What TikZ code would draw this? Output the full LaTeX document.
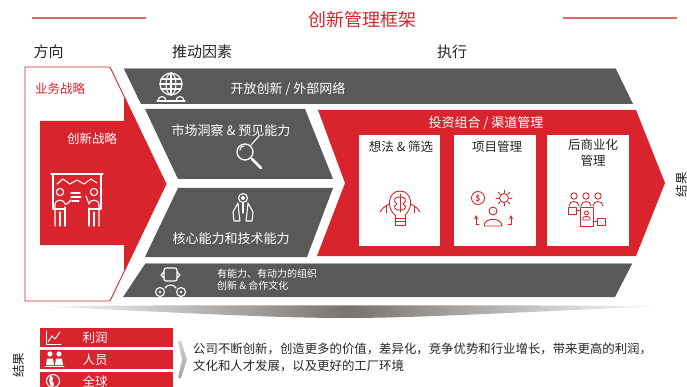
\documentclass[tikz,border=0pt]{standalone}
\usepackage{fontspec}
\setmainfont{Noto Sans CJK SC}
\usetikzlibrary{calc}
\definecolor{brandred}{HTML}{D9232D}
\definecolor{linered}{HTML}{E4646A}
\definecolor{bandgray}{HTML}{595959}
\definecolor{edgegray}{HTML}{A9A9A9}
\definecolor{shadowgray}{HTML}{77736F}
\definecolor{textdark}{HTML}{262626}
\begin{document}
\begin{tikzpicture}[x=1pt,y=-1pt,
  every node/.style={inner sep=0pt},
  titletext/.style={text=brandred,font=\fontsize{18}{20}\selectfont},
  headtext/.style={text=textdark,font=\fontsize{15}{17}\selectfont},
  wtext/.style={text=white,font=\fontsize{13}{15}\selectfont},
  wsmall/.style={text=white,font=\fontsize{10}{12}\selectfont,anchor=west},
  boxtitle/.style={text=textdark,font=\fontsize{12.5}{16}\selectfont,align=center},
  bodytext/.style={text=textdark,font=\fontsize{12.4}{14}\selectfont,anchor=west},
  rowtext/.style={text=white,font=\fontsize{12.5}{14}\selectfont},
  band/.style={fill=bandgray},
  iconw/.style={draw=white,line width=1.1pt,line cap=round,line join=round},
  iconr/.style={draw=brandred,line width=0.9pt,line cap=round,line join=round},
  whitebox/.style={fill=white}]
\useasboundingbox (0,0) rectangle (687,387);
\clip (0,0) rectangle (687,387);

% ---------- title ----------
\node[titletext] (title) at (362,20) {创新管理框架};
\draw[linered,line width=2pt] (32,17.7) -- (146,17.7);
\draw[linered,line width=2pt] (563,17.7) -- (677,17.7);

\node[headtext] (hdir) at (48.5,52) {方向};
\node[headtext] (hdrv) at (202,52) {推动因素};
\node[headtext] (hexe) at (452,52) {执行};

% ---------- direction: strategy chevron ----------
\draw[brandred,line width=0.9pt] (25,67) -- (110,67) -- (166,184) -- (110,301) -- (25,301) -- cycle;
\fill[brandred] (40,121) -- (124,121) -- (124,96) -- (166,184) -- (124,272) -- (124,245) -- (40,245) -- cycle;
\node[text=brandred,font=\fontsize{12.5}{14}\selectfont] (biz) at (60,89) {业务战略};
\node[wtext,font=\fontsize{12.5}{14}\selectfont] (innov) at (92,139) {创新战略};

% whiteboard with two presenters
\draw[iconw] (51,174) -- (103,174);
\draw[iconw] (53,174) -- (53,209) (101,174) -- (101,209) (53,209) -- (64,209) (90,209) -- (101,209);
\draw[iconw] (57,184) -- (63,179) -- (70,184) -- (77,180) -- (84,184) -- (91,179) -- (97,183);
\draw[iconw] (71,193) -- (80,193) (71,197) -- (81,197) (72,201) -- (79,201);
\draw[iconw] (60,192) circle[radius=3.6pt];
\draw[iconw] (55,226) -- (55,204) .. controls (55,199) and (65,199) .. (65,204) -- (67,204) -- (71,200);
\draw[iconw] (65,207) -- (65,226) (60,212) -- (60,226);
\draw[iconw] (94,192) circle[radius=3.6pt];
\draw[iconw] (99,226) -- (99,204) .. controls (99,199) and (89,199) .. (89,204) -- (86,196);
\draw[iconw] (89,208) -- (89,226) (94,212) -- (94,226);

% ---------- drivers ----------
\path[band] (124,69) -- (616,69) -- (633,104) -- (141,104) -- cycle;
\draw[edgegray,line width=0.8pt] (124,68.6) -- (616,68.6);
\path[band] (145,109) -- (305,109) -- (333,179) -- (178,179) -- cycle;
\path[band] (178,188) -- (333,188) -- (307,257) -- (145,257) -- cycle;
\path[band] (145,264) -- (632,264) -- (615,297) -- (123,297) -- cycle;
\draw[edgegray,line width=0.8pt] (145,263.6) -- (632,263.6);

\node[wtext] (open) at (288,89) {开放创新 / 外部网络};
\node[wtext] (market) at (231,131) {市场洞察 \& 预见能力};
\node[wtext] (core) at (231,239) {核心能力和技术能力};
\node[wsmall] (org1) at (217,274) {有能力、有动力的组织};
\node[wsmall] (org2) at (217,286) {创新 \& 合作文化};

% globe with people
\draw[iconw] (171,84) circle[radius=11pt];
\draw[iconw] (171,73) -- (171,95);
\draw[iconw] (171,84) ellipse[x radius=5pt,y radius=11pt];
\draw[iconw] (161,79) -- (181,79) (160,84) -- (182,84) (161,89) -- (181,89);
\draw[iconw] (158,101) .. controls (158,95) and (166,95) .. (166,101);
\draw[iconw] (176,101) .. controls (176,95) and (184,95) .. (184,101);
\draw[iconw] (157,101) -- (185,101);

% magnifier
\draw[iconw,line width=1.3pt] (245,152) circle[radius=8pt];
\draw[iconw,line width=2.6pt] (252,159) -- (261,168);
\draw[iconw] (251,145) -- (259,136);
\draw[iconw] (240,150) .. controls (240,147) and (242,146) .. (244,146);

% target held by two hands
\draw[iconw] (243,198) circle[radius=4.5pt];
\draw[iconw] (243,198) circle[radius=1.5pt];
\draw[iconw] (243,203) -- (243,213);
\draw[iconw] (238,203) -- (233,212) -- (234,221) -- (240,221) -- (239,213) -- cycle;
\draw[iconw] (248,203) -- (253,212) -- (252,221) -- (246,221) -- (247,213) -- cycle;

% organisation robot
\draw[iconw,rounded corners=2pt] (164,268) rectangle (177,281);
\draw[iconw] (164,272) -- (161,275) -- (164,278) (177,272) -- (180,275) -- (177,278);
\draw[iconw] (160,292) circle[radius=4.5pt];
\draw[iconw] (181,292) circle[radius=4.5pt];
\fill[white] (160,292) circle[radius=1.4pt] (181,292) circle[radius=1.4pt];
\draw[iconw] (165,288) .. controls (167,284) and (174,284) .. (176,288);

% ---------- execution arrow ----------
\fill[brandred] (318,110) -- (636,110) -- (665,183) -- (636,256) -- (317,256) -- (345,183) -- cycle;
\node[wtext] (pipe) at (486,123) {投资组合 / 渠道管理};
\path[whitebox] (359,135) rectangle (440,246);
\path[whitebox] (454,135) rectangle (536,246);
\path[whitebox] (547,135) rectangle (629,246);
\node[boxtitle] (idea) at (401,147) {想法 \& 筛选};
\node[boxtitle] (proj) at (497,147) {项目管理};
\node[boxtitle,anchor=north] (post) at (593,139) {后商业化\\管理};
\node[text=textdark,font=\fontsize{12.5}{14}\selectfont,rotate=90] (resr) at (682,185) {结果};

% idea bulb
\draw[iconr] (395,215) .. controls (386,208) and (388,191) .. (400,191) .. controls (412,191) and (414,208) .. (405,215);
\draw[iconr] (395,215) -- (395,225) -- (405,225) -- (405,215);
\draw[iconr] (395,218) -- (405,218) (395,221.5) -- (405,221.5);
\draw[iconr] (400,194) -- (400,212);
\draw[iconr] (400,197) .. controls (394,196) and (393,202) .. (397,204) .. controls (392,206) and (395,211) .. (400,210);
\draw[iconr] (400,197) .. controls (406,196) and (407,202) .. (403,204) .. controls (408,206) and (405,211) .. (400,210);
\draw[iconr] (389,204) -- (383,208) -- (380,212) (411,204) -- (417,208) -- (420,212);
\draw[iconr] (386,206) -- (386,213) (414,206) -- (414,213);

% project management: money, gear, person
\draw[iconr] (478,198) circle[radius=6.5pt];
\node[text=brandred,font=\bfseries\fontsize{8}{9}\selectfont] (dollar) at (478,198.5) {\$};
\draw[iconr] (504,198) circle[radius=4.5pt];
\foreach \a in {0,45,...,315}
  \draw[iconr] ($(504,198)+(\a:5.5pt)$) -- ($(504,198)+(\a:8pt)$);
\draw[iconr] (493,211) circle[radius=4pt];
\draw[iconr] (484,226) .. controls (484,217) and (502,217) .. (502,226) -- cycle;
\draw[iconr,-stealth] (476,224) -- (476,215);
\draw[iconr,-stealth] (508,224) -- (511,224) -- (511,215);
\draw[iconr] (476,224) -- (479,224);

% post-commercial management: people and charts
\foreach \px in {574,586,598}{
  \draw[iconr] (\px,196) circle[radius=3.2pt];
  \draw[iconr] (\px-5,206) .. controls (\px-5,200) and (\px+5,200) .. (\px+5,206);
}
\draw[iconr] (580,207) rectangle (593,226);
\draw[iconr] (586.5,213) circle[radius=2pt];
\draw[iconr] (583,220) -- (583,218) .. controls (583,216) and (590,216) .. (590,218) -- (590,220) -- cycle;
\draw[iconr] (568,207) rectangle (576,214);
\draw[iconr] (576,210.5) -- (580,210.5);
\draw[iconr] (597,218) rectangle (605,225);
\draw[iconr] (593,221.5) -- (597,221.5);

% ---------- shadow under the framework ----------
\shade[left color=white,right color=white,middle color=shadowgray]
  (32,306) .. controls (200,305) and (490,305) .. (667,306)
  .. controls (520,312) and (420,318) .. (345,318)
  .. controls (270,318) and (170,312) .. (32,306) -- cycle;

% ---------- results ----------
\node[text=textdark,font=\fontsize{12.5}{14}\selectfont,rotate=90] (resl) at (19,365) {结果};
\fill[brandred] (40,328) rectangle (173,347);
\fill[brandred] (40,350) rectangle (173,369);
\fill[brandred] (40,372) rectangle (173,392);
\node[rowtext] (profit) at (95,338) {利润};
\node[rowtext] (people) at (95,360) {人员};
\node[rowtext] (global) at (95,382) {全球};

% profit chart
\draw[iconw,line width=0.9pt] (46,331) -- (46,344.5) -- (61,344.5);
\draw[iconw,line width=0.9pt] (48,342) -- (52,336) -- (55,339) -- (60,332);
% people pair
\fill[white] (50,354) circle[radius=2.6pt] (59,354) circle[radius=2.6pt];
\fill[white] (46,365) -- (47,358.5) -- (53,358.5) -- (54,365) -- cycle;
\fill[white] (55,365) -- (56,358.5) -- (62,358.5) -- (63,365) -- cycle;
\draw[iconw,line width=0.8pt] (45,366.5) -- (64,366.5);
% globe
\draw[iconw] (53,381) circle[radius=6.5pt];
\fill[white] (50,376) .. controls (53,376) and (54,379) .. (52,381) .. controls (55,383) and (54,387) .. (52,387) .. controls (49,385) and (49,379) .. (50,376) -- cycle;

% separator chevron
\shade[top color=gray!35,bottom color=gray!70] (178,341) -- (181,341) -- (187,359.5) -- (181,378) -- (178,378) -- (182,359.5) -- cycle;

\node[bodytext] (line1) at (193,349) {公司不断创新，创造更多的价值，差异化，竞争优势和行业增长，带来更高的利润，};
\node[bodytext] (line2) at (193,365.5) {文化和人才发展，以及更好的工厂环境};
\end{tikzpicture}
\end{document}
